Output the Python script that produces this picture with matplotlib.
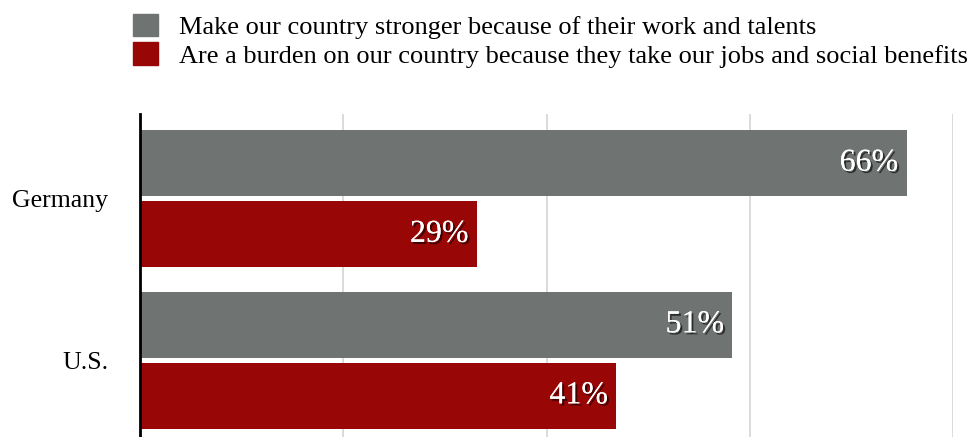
import matplotlib
matplotlib.use('Agg')
import matplotlib.pyplot as plt
import matplotlib.patheffects as pe
from matplotlib.patches import Patch
import numpy as np

countries = ['Germany', 'U.S.']
stronger = [66, 51]
burden = [29, 41]
series_labels = ['Make our country stronger because of their work and talents',
                 'Are a burden on our country because they take our jobs and social benefits']
grey = '#6f7472'
red = '#990606'

plt.rcParams['font.family'] = ['Liberation Serif', 'DejaVu Serif']

fig = plt.figure(figsize=(9.76, 4.37), dpi=100)
ax = fig.add_axes([140 / 976, 0, (953 - 140) / 976, (437 - 114) / 437])

y = np.arange(len(countries))
off = 0.22
h = 0.41
b1 = ax.barh(y - off, stronger, height=h, color=grey, zorder=2)
b2 = ax.barh(y + off, burden, height=h, color=red, zorder=2)

shadow = [pe.withSimplePatchShadow(offset=(1.5, -1.5), shadow_rgbFace='black', alpha=0.6), pe.Normal()]
for bars, vals in ((b1, stronger), (b2, burden)):
    for rect, v in zip(bars, vals):
        ax.text(v - 0.7, rect.get_y() + rect.get_height() / 2, f'{v}%',
                ha='right', va='center', color='white', fontsize=23,
                path_effects=shadow, zorder=3)

ax.set_xlim(0, 70)
ax.set_ylim(1.475, -0.525)
ax.set_xticks([17.5, 35, 52.5, 70])
ax.set_xticklabels([])
ax.tick_params(axis='x', length=0)
ax.grid(axis='x', color='#d4d4d4', linewidth=1.2, zorder=0)
ax.set_yticks(y)
ax.set_yticklabels(countries, fontsize=18.5)
ax.tick_params(axis='y', length=0, pad=23)
for s in ('top', 'right', 'bottom'):
    ax.spines[s].set_visible(False)
ax.spines['left'].set_linewidth(2)
ax.spines['left'].set_zorder(4)

handles = [Patch(color=grey), Patch(color=red)]
fig.legend(handles, series_labels, loc='upper left', bbox_to_anchor=(133 / 976, 1 - 14 / 437),
           frameon=False, fontsize=19, handlelength=0.93, handleheight=0.93,
           handletextpad=0.8, labelspacing=0.12, borderpad=0, borderaxespad=0)

fig.savefig('out.png', dpi=100)
